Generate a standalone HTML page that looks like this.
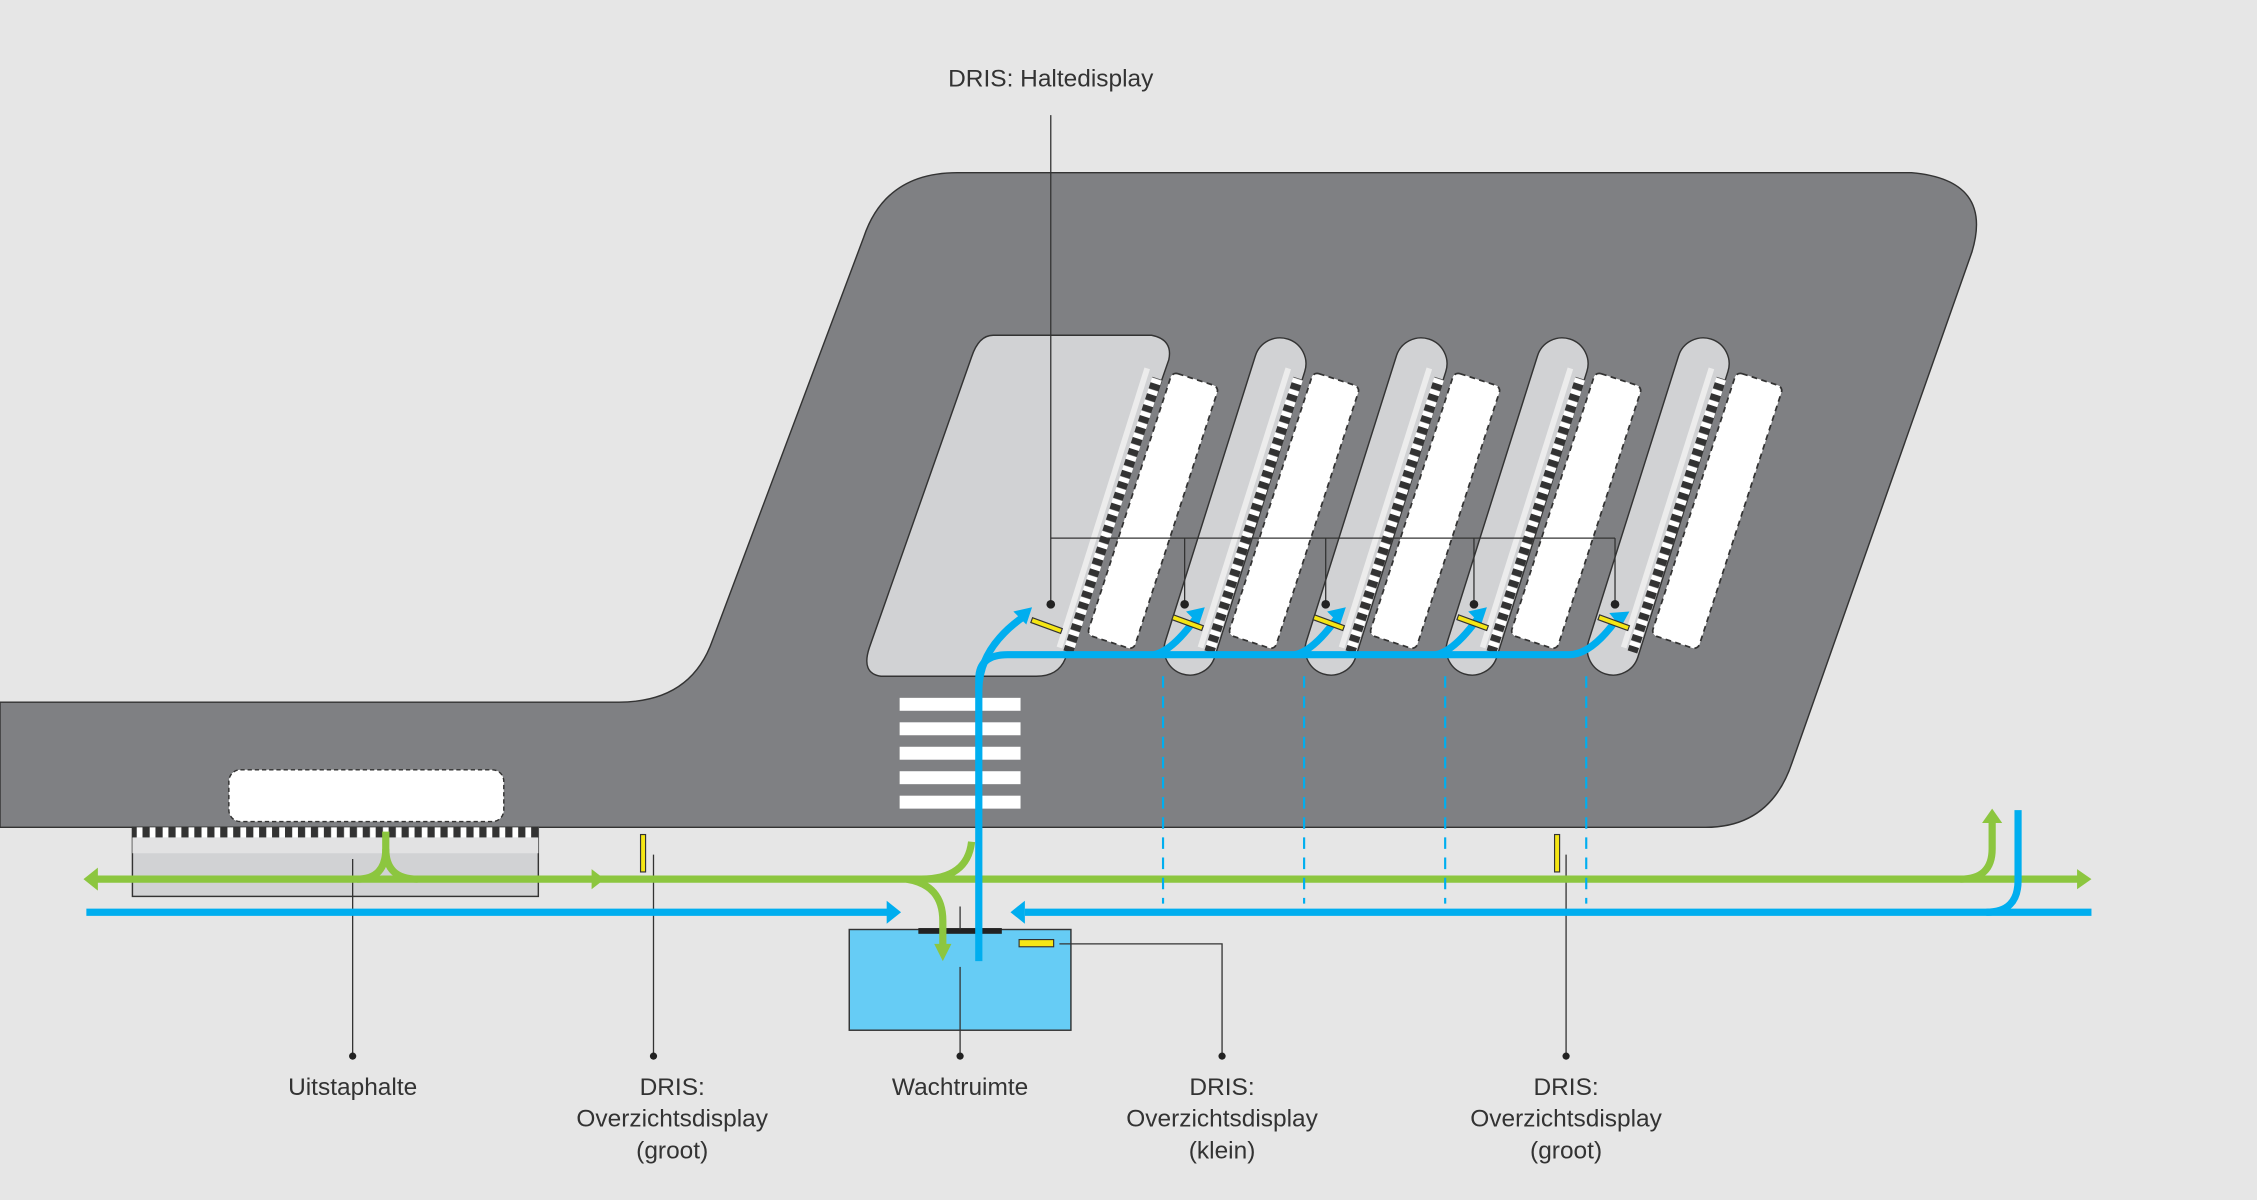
<!DOCTYPE html>
<html><head><meta charset="utf-8"><style>
html,body{margin:0;padding:0;background:#e6e6e6;}
svg{display:block}
text{font-family:"Liberation Sans",sans-serif;font-size:17px;fill:#333;text-anchor:middle}
</style></head><body>
<svg width="2257" height="1200" viewBox="0 0 1568 834" preserveAspectRatio="none" xmlns="http://www.w3.org/2000/svg">
<defs>
<pattern id="chk" width="8" height="8" patternUnits="userSpaceOnUse"><rect width="8" height="8" fill="#fff"/><rect width="8" height="4.5" fill="#333"/></pattern>
<pattern id="chkh" width="9" height="8" patternUnits="userSpaceOnUse"><rect width="9" height="8" fill="#fff"/><rect width="5" height="8" fill="#333"/></pattern>
<g id="bay">
  <rect x="-18" y="-122" width="36" height="244" rx="18" fill="#d1d2d4" stroke="#333" stroke-width="1"/>
</g>
<g id="bus">
  <rect x="-17" y="-96" width="34" height="192" rx="4" fill="#fff" stroke="#333" stroke-width="1.2" stroke-dasharray="4 3"/>
</g>
</defs>
<rect width="1568" height="834" fill="#e6e6e6"/>
<path d="M0,488 L430,488 Q480,488 495,445 L600,165 Q615,120 665,120 L1328,120 Q1385,125 1370,175 L1245,530 Q1230,575 1185,575 L0,575 Z" fill="#7f8083" stroke="#333" stroke-width="1"/>
<path d="M690,233 L800,233 Q815,236 812,250 L740,458 Q735,470 720,470 L612,470 Q598,468 604,450 L675,248 Q680,233 690,233 Z" fill="#d1d2d4" stroke="#333" stroke-width="1"/>
<g transform="translate(858,352) rotate(17.5)"><use href="#bay"/></g>
<g transform="translate(956,352) rotate(17.5)"><use href="#bay"/></g>
<g transform="translate(1054,352) rotate(17.5)"><use href="#bay"/></g>
<g transform="translate(1152,352) rotate(17.5)"><use href="#bay"/></g>
<g id="edge">
  <line x1="797" y1="256" x2="736" y2="450" stroke="#ececec" stroke-width="4"/>
  <g transform="translate(773,358) rotate(18)"><rect x="-3.5" y="-100" width="7" height="200" fill="url(#chk)"/></g>
  <g transform="translate(801,355) rotate(18)"><use href="#bus"/></g>
</g>
<use href="#edge" transform="translate(98,0)"/>
<use href="#edge" transform="translate(196,0)"/>
<use href="#edge" transform="translate(294,0)"/>
<use href="#edge" transform="translate(392,0)"/>
<g fill="#fff"><rect x="625" y="485" width="84" height="9"/><rect x="625" y="502" width="84" height="9"/><rect x="625" y="519" width="84" height="9"/><rect x="625" y="536" width="84" height="9"/><rect x="625" y="553" width="84" height="9"/></g>
<rect x="159" y="535" width="191" height="36" rx="8" fill="#fff" stroke="#333" stroke-dasharray="3 2"/>
<rect x="92" y="575" width="282" height="48" fill="#d1d2d4" stroke="#333" stroke-width="1"/>
<rect x="92" y="582" width="282" height="11" fill="#e2e2e3"/>
<rect x="92" y="575" width="282" height="7" fill="url(#chkh)"/>
<rect x="590" y="646" width="154" height="70" fill="#66ccf5" stroke="#333" stroke-width="1"/>
<rect x="638" y="645" width="58" height="4" fill="#222"/>
<g stroke="#333" stroke-width="0.9" fill="none">
<line x1="730" y1="80" x2="730" y2="420"/>
<line x1="730" y1="374" x2="1122" y2="374"/>
<line x1="823" y1="374" x2="823" y2="420"/><line x1="921" y1="374" x2="921" y2="420"/><line x1="1024" y1="374" x2="1024" y2="420"/><line x1="1122" y1="374" x2="1122" y2="420"/>
<line x1="245" y1="597" x2="245" y2="734"/>
<line x1="454" y1="594" x2="454" y2="734"/>
<line x1="667" y1="630" x2="667" y2="646"/>
<line x1="667" y1="672" x2="667" y2="734"/>
<polyline points="736,656 849,656 849,734"/>
<line x1="1088" y1="594" x2="1088" y2="734"/>
</g>
<g fill="#222">
<circle cx="730" cy="420" r="3"/><circle cx="823" cy="420" r="3"/><circle cx="921" cy="420" r="3"/><circle cx="1024" cy="420" r="3"/><circle cx="1122" cy="420" r="3"/>
<circle cx="245" cy="734" r="2.5"/><circle cx="454" cy="734" r="2.5"/><circle cx="667" cy="734" r="2.5"/><circle cx="849" cy="734" r="2.5"/><circle cx="1088" cy="734" r="2.5"/>
</g>
<g stroke="#8cc63f" stroke-width="5" fill="none">
<line x1="66" y1="611" x2="1445" y2="611"/>
<path d="M268,578 L268,590 Q268,611 248,611"/>
<path d="M268,590 Q268,611 290,611"/>
<path d="M675,585 Q672,611 640,611"/>
<path d="M630,611 Q655,615 655,640 L655,658"/>
<path d="M1362,611 Q1384,611 1384,590 L1384,572"/>
</g>
<g fill="#8cc63f">
<polygon points="58,611 68,603 68,619"/>
<polygon points="1453,611 1443,604 1443,618"/>
<polygon points="420,611 411,604 411,618"/>
<polygon points="1384,562 1377,572 1391,572"/>
<polygon points="655,668 649,656 661,656"/>
</g>
<g stroke="#00aeef" stroke-width="5" fill="none">
<line x1="60" y1="634" x2="618" y2="634"/>
<line x1="712" y1="634" x2="1453" y2="634"/>
<path d="M1380,634 Q1402,634 1402,612 L1402,563"/>
<path d="M680,668 L680,472 Q680,455 700,455 L1090,455 Q1105,455 1122,432"/>
<path d="M680,480 Q680,450 712,428"/>
<path d="M802,455 Q815,452 832,428"/>
<path d="M900,455 Q913,452 930,428"/>
<path d="M998,455 Q1011,452 1028,428"/>
</g>
<g fill="#00aeef">
<polygon points="626,634 616,626 616,642"/>
<polygon points="702,634 712,626 712,642"/>
<polygon points="717,422 704,425 713,434"/>
<polygon points="837,422 824,425 833,434"/>
<polygon points="935,422 922,425 931,434"/>
<polygon points="1033,422 1020,425 1029,434"/>
<polygon points="1132,425 1118,426 1126,436"/>
</g>
<g stroke="#00aeef" stroke-width="1.5" stroke-dasharray="8 6">
<line x1="808" y1="470" x2="808" y2="628"/><line x1="906" y1="470" x2="906" y2="628"/><line x1="1004" y1="470" x2="1004" y2="628"/><line x1="1102" y1="470" x2="1102" y2="628"/>
</g>
<g fill="#f5e614" stroke="#333" stroke-width="0.8">
<rect x="716" y="433" width="22" height="3.5" transform="rotate(20 727 435)"/>
<rect x="814" y="431" width="22" height="3.5" transform="rotate(20 825 433)"/>
<rect x="912" y="431" width="22" height="3.5" transform="rotate(20 923 433)"/>
<rect x="1012" y="431" width="22" height="3.5" transform="rotate(20 1023 433)"/>
<rect x="1110" y="431" width="22" height="3.5" transform="rotate(20 1121 433)"/>
<rect x="445" y="580" width="3.5" height="26"/>
<rect x="1080" y="580" width="3.5" height="26"/>
<rect x="708" y="653" width="24" height="5"/>
</g>
<text x="730" y="60">DRIS: Haltedisplay</text>
<text x="245" y="761">Uitstaphalte</text>
<text x="467" y="761">DRIS:</text><text x="467" y="783">Overzichtsdisplay</text><text x="467" y="805">(groot)</text>
<text x="667" y="761">Wachtruimte</text>
<text x="849" y="761">DRIS:</text><text x="849" y="783">Overzichtsdisplay</text><text x="849" y="805">(klein)</text>
<text x="1088" y="761">DRIS:</text><text x="1088" y="783">Overzichtsdisplay</text><text x="1088" y="805">(groot)</text>
</svg>
</body></html>
